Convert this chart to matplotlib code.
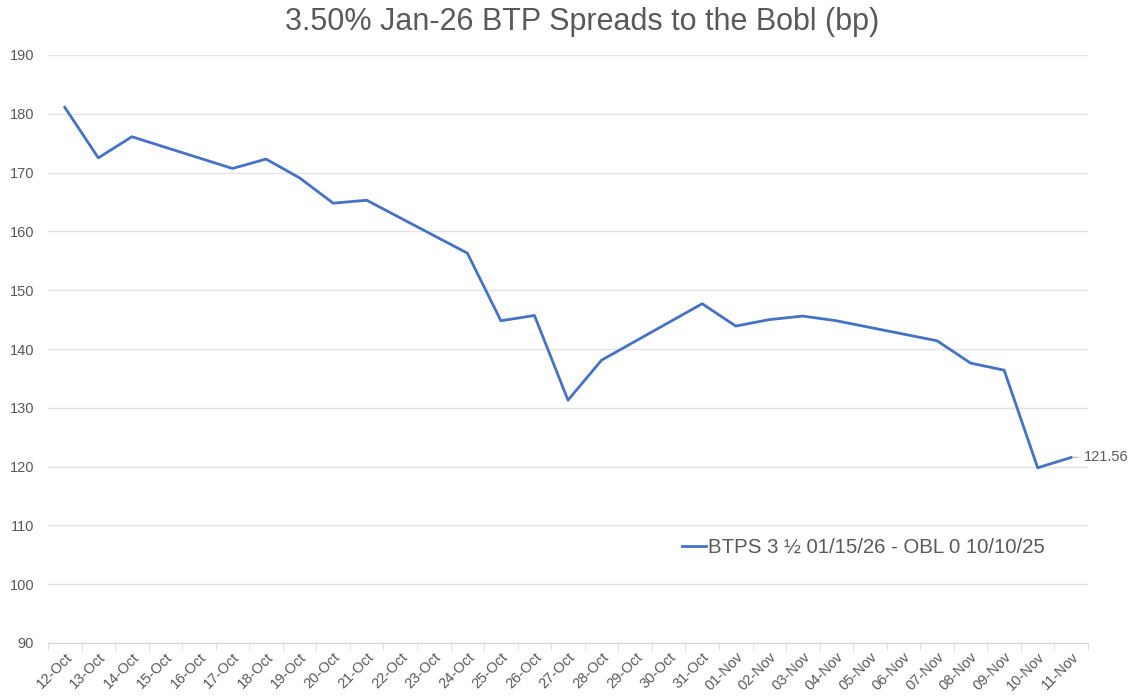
import matplotlib
matplotlib.use("Agg")
import matplotlib.pyplot as plt
import pandas as pd

plt.rcParams['font.family'] = ['Liberation Sans', 'DejaVu Sans']

# axe des dates (catégories affichées)
axis_start = "2022-10-12"
axis_end = "2022-11-11"

# jours ouvrés et spread (bp)
dates = ["2022-10-12", "2022-10-13", "2022-10-14", "2022-10-17", "2022-10-18",
         "2022-10-19", "2022-10-20", "2022-10-21", "2022-10-24", "2022-10-25",
         "2022-10-26", "2022-10-27", "2022-10-28", "2022-10-31", "2022-11-01",
         "2022-11-02", "2022-11-03", "2022-11-04", "2022-11-07", "2022-11-08",
         "2022-11-09", "2022-11-10", "2022-11-11"]
spread = [181.1, 172.5, 176.1, 170.7, 172.3,
          169.1, 164.8, 165.3, 156.3, 144.8,
          145.7, 131.3, 138.1, 147.7, 143.9,
          145.0, 145.6, 144.8, 141.4, 137.6,
          136.4, 119.8, 121.56]

series_label = "BTPS 3 ½ 01/15/26 - OBL 0 10/10/25"
title = "3.50% Jan-26 BTP Spreads to the Bobl (bp)"

gris = "#595959"
bleu = "#4472C4"

x = pd.to_datetime(dates)
jours = pd.date_range(axis_start, axis_end, freq="D")

fig = plt.figure(figsize=(11.33, 6.99), dpi=100)
ax = fig.add_axes([48 / 1133, 1 - 643 / 699, 1040 / 1133, 588 / 699])

ax.plot(x, spread, color=bleu, lw=2.0, label=series_label, zorder=3)

# étiquette de la dernière valeur
ax.annotate(f"{spread[-1]:.2f}", xy=(x[-1], spread[-1]),
            xytext=(9, 0.5), textcoords="offset points",
            ha="left", va="center", fontsize=10.5, color=gris,
            arrowprops=dict(arrowstyle="-", color="#bfbfbf", lw=0.8,
                            shrinkA=2, shrinkB=1))

# axes
demi_jour = pd.Timedelta(hours=12)
ax.set_xlim(jours[0] - demi_jour, jours[-1] + demi_jour)
ax.set_ylim(90, 190)
ax.set_yticks(range(90, 191, 10))

ax.set_xticks(jours)
ax.set_xticklabels([d.strftime("%d-%b") for d in jours], rotation=45,
                   ha="right", rotation_mode="anchor", fontsize=10.5, color=gris)
ax.set_xticks([d - demi_jour for d in jours] + [jours[-1] + demi_jour], minor=True)
ax.tick_params(axis="x", which="major", length=0, pad=5)
ax.tick_params(axis="x", which="minor", length=5, color="#d9d9d9")
ax.tick_params(axis="y", length=0, labelsize=10.5, labelcolor=gris, pad=10)

ax.grid(axis="y", color="#e3e3e3", lw=1.0)
ax.set_axisbelow(True)
for s in ["top", "right", "left"]:
    ax.spines[s].set_visible(False)
ax.spines["bottom"].set_color("#d9d9d9")

fig.text(0.514, 0.969, title, ha="center", va="center", fontsize=22, color=gris)

ax.legend(loc="center", bbox_to_anchor=(0.784, 0.163), frameon=False,
          fontsize=14.7, labelcolor=gris, handlelength=1.2, handletextpad=0.1)

plt.savefig("out.png", dpi=100)
plt.close()
